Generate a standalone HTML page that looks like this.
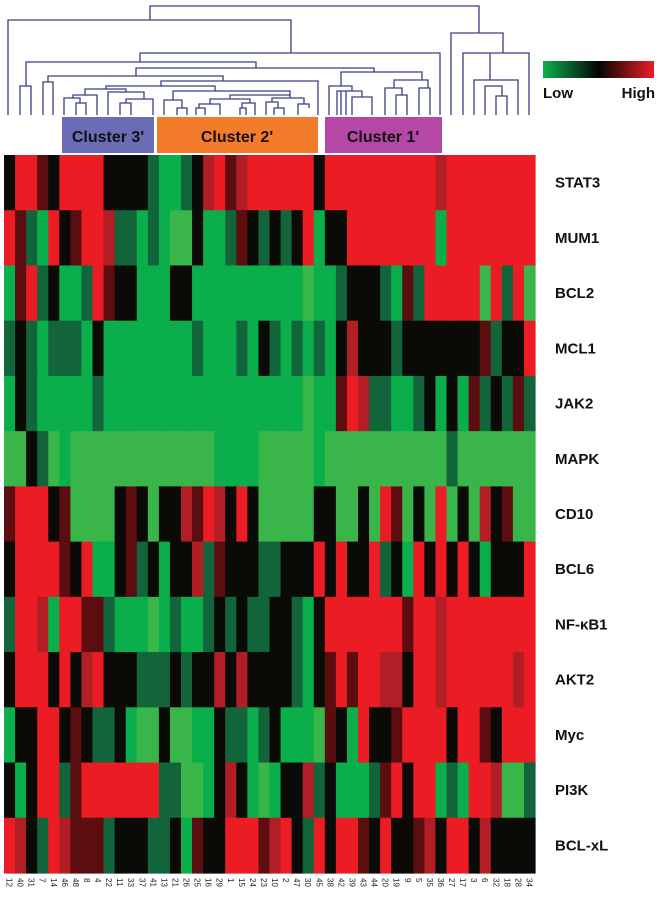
<!DOCTYPE html>
<html><head><meta charset="utf-8">
<style>
html,body{margin:0;padding:0;background:#fff;}
svg{display:block;font-family:"Liberation Sans",Arial,sans-serif;}
</style></head>
<body>
<svg id="chart" width="660" height="902" viewBox="0 0 660 902" xmlns="http://www.w3.org/2000/svg">
  <defs>
    <linearGradient id="lg" x1="0" x2="1" y1="0" y2="0">
      <stop offset="0" stop-color="#0cb04c"/>
      <stop offset="0.5" stop-color="#050505"/>
      <stop offset="1" stop-color="#ee1c24"/>
    </linearGradient>
  </defs>
  <g id="dendro" stroke="#3a3d86" stroke-width="1.3" fill="none"></g>
  <g>
    <rect x="62" y="117" width="92" height="36" fill="#6a6db5"/>
    <text x="108" y="142" text-anchor="middle" font-size="16" font-weight="bold" fill="#111">Cluster 3'</text>
  </g>
  <g>
    <rect x="157" y="117" width="161" height="36" fill="#f47b2a"/>
    <text x="237" y="142" text-anchor="middle" font-size="16" font-weight="bold" fill="#111">Cluster 2'</text>
  </g>
  <g>
    <rect x="325" y="117" width="117" height="36" fill="#b547a6"/>
    <text x="383" y="142" text-anchor="middle" font-size="16" font-weight="bold" fill="#111">Cluster 1'</text>
  </g>
  <g>
    <rect x="543" y="61" width="111" height="17" fill="url(#lg)"/>
    <text x="543" y="98" font-size="15" font-weight="bold" fill="#111">Low</text>
    <text x="655" y="98" text-anchor="end" font-size="15" font-weight="bold" fill="#111">High</text>
  </g>
  <g id="cells"></g>
  <g id="rowlabels"></g>
  <g id="collabels"></g>
</svg>
<script>
// Data: gene rows, sample columns, expression levels 0 (low, green) .. 6 (high, red)
const genes = ["STAT3","MUM1","BCL2","MCL1","JAK2","MAPK","CD10","BCL6","NF-κB1","AKT2","Myc","PI3K","BCL-xL"];
const samples = ["12","40","31","7","14","46","48","8","4","22","11","33","37","41","13","21","26","25","16","29","1","15","24","23","10","2","47","30","45","38","42","39","43","44","20","19","9","5","35","36","27","17","3","6","32","18","28","34"];
const rowSTAT3 = "366436666333321123564566"+"666636666666666566666666";
const rowMUM1  = "642163466522121003112432"+"323613366666666166666666";
const rowBCL2  = "146231126433111331111111"+"111011233321426666606260";
const rowMCL1  = "232122213111111112111213"+"212121353332333333342336";
const rowJAK2  = "132111112111111111111111"+"111011465221123131423242";
const rowMAPK  = "003201000000000000011110"+"000010000000000020000000";
const rowCD10  = "466634000034303354653630"+"000033003064030603053400";
const rowBCL6  = "366664361134231335243332"+"233363633623163636313336";
const rowNFKB1 = "266516644211101211232322"+"332136666666466566666666";
const rowAKT2  = "366636356333222323353533"+"332134646655366566666656";
const rowMyc   = "133663432231003001132212"+"311104316334666636643666";
const rowPI3K  = "313662466666662200135310"+"133523111246366121665002";
const rowBCLxL = "653265444233322314336664"+"563263664363345366353333";
const rows = [rowSTAT3,rowMUM1,rowBCL2,rowMCL1,rowJAK2,rowMAPK,rowCD10,rowBCL6,rowNFKB1,rowAKT2,rowMyc,rowPI3K,rowBCLxL];

const palette = ["#39b54a","#0aaf4c","#12653a","#0a0a06","#5c0d10","#b21e25","#ec1c24"];
const NS="http://www.w3.org/2000/svg";
const X0=4, X1=535, Y0=155, Y1=873;
const cw=(X1-X0)/samples.length, rh=(Y1-Y0)/genes.length;
function xPos(i){return X0+i*cw;}
function yPos(j){return Y0+j*rh;}
const cells=document.getElementById('cells');
rows.forEach((r,j)=>{
  for(let i=0;i<samples.length;i++){
    const v=parseInt(r[i]);
    const c=document.createElementNS(NS,'rect');
    c.setAttribute('x',xPos(i).toFixed(2));
    c.setAttribute('y',yPos(j).toFixed(2));
    c.setAttribute('width',(cw+0.6).toFixed(2));
    c.setAttribute('height',(rh+0.6).toFixed(2));
    c.setAttribute('fill',palette[v]);
    
    
    cells.appendChild(c);
  }
});
const rl=document.getElementById('rowlabels');
genes.forEach((g,j)=>{
  const t=document.createElementNS(NS,'text');
  t.setAttribute('x',555);
  t.setAttribute('y',(yPos(j)+rh/2+5).toFixed(1));
  t.setAttribute('font-size','15');
  t.setAttribute('font-weight','bold');
  t.setAttribute('fill','#111');
  t.textContent=g;
  
  
  rl.appendChild(t);
});
const cl=document.getElementById('collabels');
samples.forEach((s,i)=>{
  const t=document.createElementNS(NS,'text');
  const cx=xPos(i)+cw/2;
  t.setAttribute('transform','translate('+(cx-3).toFixed(1)+',878) rotate(90)');
  t.setAttribute('font-size','8');
  t.setAttribute('fill','#222');
  t.textContent=s;
  
  
  cl.appendChild(t);
});
// dendrogram (tree shape, U-links: left x, right x, join y, left bottom y, right bottom y)
const links=[
 [150,479,6,20,33],[8,291,20,115,53],[140,440,53,62,115],[26,256,62,86,68],[20,31,86,115,115],
 [136,374,68,76,72],[48,223,76,82,81],[43,53,82,115,115],[161,318,81,86,115],
 [106,215,86,89,91],[85,126,89,95,92],[73,97,95,98,115],[64,80,98,115,103],[76,86,103,115,115],
 [108,144,92,115,99],[126,153,99,103,115],[120,131,103,115,115],
 [173,290,91,100,95],[164,182,100,115,108],[177,187,108,115,115],
 [230,290,95,99,98],[210,250,99,104,103],[199,220,104,108,115],[196,205,108,115,115],
 [242,255,103,108,115],[240,246,108,115,115],[272,304,98,102,104],[266,278,102,115,108],[274,284,108,115,115],[298,309,104,115,108],
 [341,422,72,86,80],[329,352,86,115,91],[341,362,91,115,97],[352,372,97,115,115],[337,346,91,115,115],
 [394,428,80,88,88],[385,402,88,115,95],[396,407,95,115,115],[419,430,88,115,115],
 [451,503,33,115,53],[463,529,53,115,115],[474,518,80,115,115],[485,502,86,115,96],[496,507,96,115,115]
];
const dg=document.getElementById('dendro');
let d="";
links.forEach(l=>{d+="M"+l[0]+","+l[3]+"V"+l[2]+"H"+l[1]+"V"+l[4];});
d+="M490,53V80";
const p=document.createElementNS(NS,'path');
p.setAttribute('d',d);


dg.appendChild(p);
</script>
</body></html>
